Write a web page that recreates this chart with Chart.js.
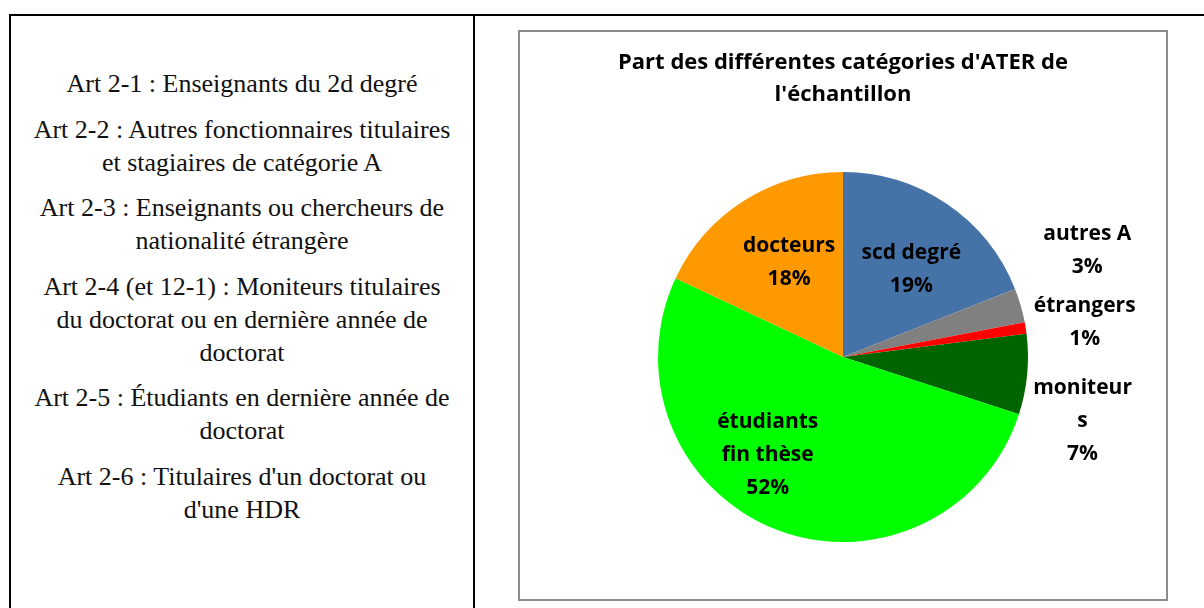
<!DOCTYPE html>
<html>
<head>
<meta charset="utf-8">
<script src="https://cdn.jsdelivr.net/npm/chart.js@4.4.1/dist/chart.umd.min.js"></script>
<style>
  html, body { margin: 0; padding: 0; background: #fff; overflow: hidden; }
  body { width: 1204px; height: 608px; position: relative; }
  #frame {
    position: absolute; left: 9px; top: 14px; width: 1300px; height: 700px;
    border: 2px solid #000; box-sizing: border-box;
  }
  #divider { position: absolute; left: 473px; top: 14px; width: 2px; height: 700px; background: #000; }
  #notes {
    position: absolute; left: 11px; top: 67px; width: 462px;
    font-family: "Liberation Serif", "Times New Roman", serif;
    font-size: 26px; line-height: 33px; color: #111; text-align: center;
  }
  #notes p { margin: 0 0 12.5px 0; }
  #box {
    position: absolute; left: 518px; top: 30px; width: 650px; height: 571px;
    border: 2px solid #8c8c8c; box-sizing: border-box; background: #fff;
  }
  #box canvas { display: block; }
</style>
</head>
<body>
<div id="frame"></div>
<div id="divider"></div>
<div id="notes">
  <p>Art 2-1 : Enseignants du 2d degré</p>
  <p>Art 2-2 : Autres fonctionnaires titulaires<br>et stagiaires de catégorie A</p>
  <p>Art 2-3 : Enseignants ou chercheurs de<br>nationalité étrangère</p>
  <p>Art 2-4 (et 12-1) : Moniteurs titulaires<br>du doctorat ou en dernière année de<br>doctorat</p>
  <p>Art 2-5 : Étudiants en dernière année de<br>doctorat</p>
  <p>Art 2-6 : Titulaires d'un doctorat ou<br>d'une HDR</p>
</div>
<div id="box"><canvas id="pie" width="646" height="567"></canvas></div>
<script>
// donnees
const categories = ['scd degré', 'autres A', 'étrangers', 'moniteurs', 'étudiants fin thèse', 'docteurs'];
const labelLines = [['scd degré'], ['autres A'], ['étrangers'], ['moniteur', 's'], ['étudiants', 'fin thèse'], ['docteurs']];
const parts = [19, 3, 1, 7, 52, 18];
const colors = ['#4572A7', '#808080', '#FF0000', '#006400', '#00FF00', '#FF9900'];
const titleLines = ["Part des différentes catégories d'ATER de", "l'échantillon"];

const labelFont = 'bold 21px "Open Sans", sans-serif';

// etiquettes a l'interieur / a l'exterieur des parts
const pieLabels = {
  id: 'pieLabels',
  afterDatasetsDraw(chart, args, opts) {
    const ctx = chart.ctx;
    const arcs = chart.getDatasetMeta(0).data;
    ctx.save();
    ctx.font = labelFont;
    ctx.fillStyle = '#000';
    ctx.textAlign = 'center';
    ctx.textBaseline = 'middle';
    arcs.forEach((arc, i) => {
      const p = opts.place[i];
      const a = (p.angle - 90) * Math.PI / 180;
      const cx = arc.x + Math.cos(a) * arc.outerRadius * p.r;
      const cy = arc.y + Math.sin(a) * arc.outerRadius * p.r;
      const lines = labelLines[i].concat([parts[i] + '%']);
      const lh = 33;
      lines.forEach((t, k) => {
        ctx.fillText(t, cx, cy + (k - (lines.length - 1) / 2) * lh);
      });
    });
    ctx.restore();
  }
};

const ctx = document.getElementById('pie').getContext('2d');
const chart = new Chart(ctx, {
  type: 'pie',
  data: {
    labels: categories,
    datasets: [{
      data: parts,
      backgroundColor: colors,
      borderWidth: 0
    }]
  },
  options: {
    responsive: false,
    animation: false,
    layout: { padding: { top: 0, left: 0, right: 0, bottom: 57 } },
    plugins: {
      legend: { display: false },
      tooltip: { enabled: false },
      title: {
        display: true,
        text: titleLines,
        color: '#000',
        font: { family: '"Open Sans", sans-serif', size: 22, weight: 'bold', lineHeight: '32px' },
        padding: { top: 15, bottom: 61 }
      },
      pieLabels: {
        place: [
          { angle: 38, r: 0.60 },
          { angle: 66.5, r: 1.44 },
          { angle: 81.8, r: 1.32 },
          { angle: 104.9, r: 1.34 },
          { angle: 217.4, r: 0.67 },
          { angle: 330.4, r: 0.59 }
        ]
      }
    }
  },
  plugins: [pieLabels]
});
</script>
</body>
</html>
